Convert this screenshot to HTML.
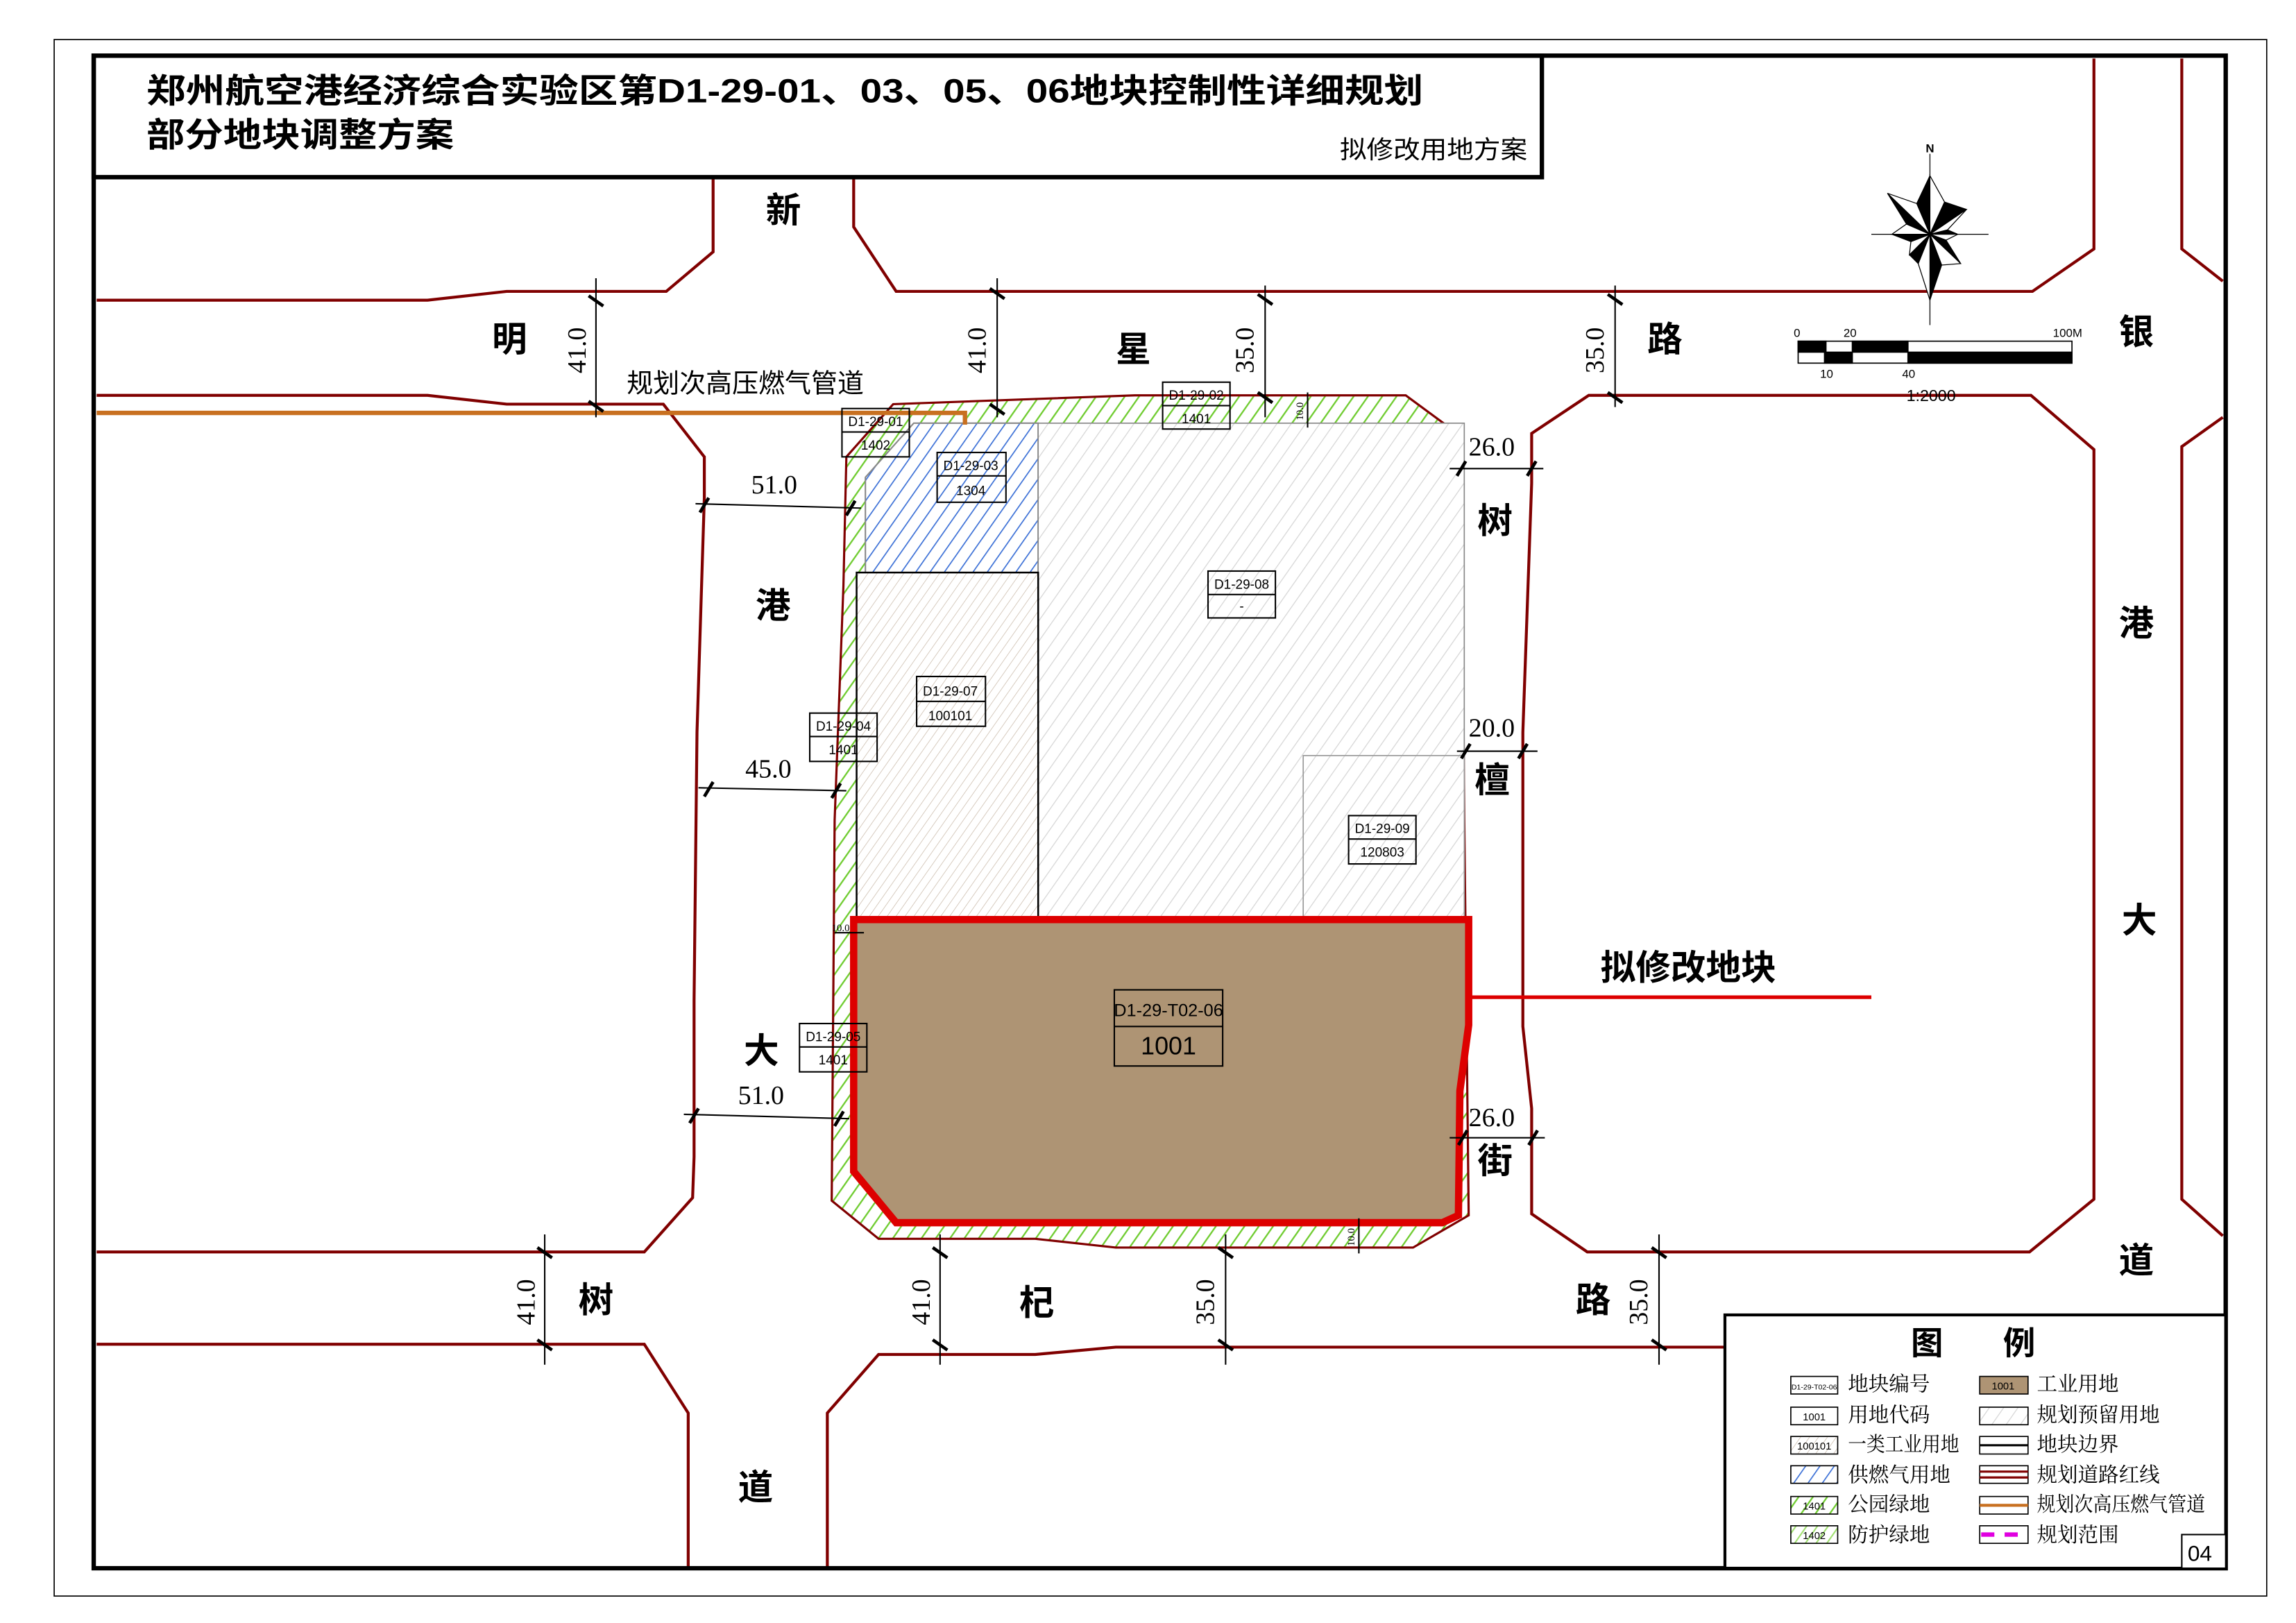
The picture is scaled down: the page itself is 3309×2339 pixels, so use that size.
<!DOCTYPE html>
<html><head><meta charset="utf-8"><style>
html,body{margin:0;padding:0;background:#fff;}
svg{display:block;}
text{font-family:"Liberation Sans","Noto Sans CJK SC",sans-serif;}
text.rd{font-family:"Noto Sans CJK SC","WenQuanYi Zen Hei",sans-serif;font-weight:bold;font-size:24px;}
g.dim text{font-family:"Liberation Serif","Noto Serif CJK SC",serif;font-size:18px;}
g.lb text{font-family:"Liberation Sans Narrow","Liberation Sans",sans-serif;font-size:9px;}
g.lg text{font-family:"Noto Serif CJK SC","Noto Sans CJK SC",serif;font-size:14px;}
</style></head><body>
<svg width="3309" height="2339" viewBox="0 0 1568 1108.4" preserveAspectRatio="none" xmlns="http://www.w3.org/2000/svg">
<defs>
<pattern id="pg" width="8" height="8" patternUnits="userSpaceOnUse" patternTransform="rotate(35)"><rect width="8" height="8" fill="#fff"/><line x1="0" y1="0" x2="0" y2="8" stroke="#6fcc30" stroke-width="2.2"/></pattern>
<pattern id="pg2" width="6" height="6" patternUnits="userSpaceOnUse" patternTransform="rotate(35)"><rect width="6" height="6" fill="#fff"/><line x1="0" y1="0" x2="0" y2="6" stroke="#a0e070" stroke-width="2"/></pattern>
<pattern id="pb" width="8" height="8" patternUnits="userSpaceOnUse" patternTransform="rotate(35)"><rect width="8" height="8" fill="#fff"/><line x1="0" y1="0" x2="0" y2="8" stroke="#3a6fd6" stroke-width="1.6"/></pattern>
<pattern id="pr" width="8" height="8" patternUnits="userSpaceOnUse" patternTransform="rotate(35)"><rect width="8" height="8" fill="#fff"/><line x1="0" y1="0" x2="0" y2="8" stroke="#d6d6d6" stroke-width="1.2"/></pattern>
<pattern id="pe" width="5" height="5" patternUnits="userSpaceOnUse" patternTransform="rotate(35)"><rect width="5" height="5" fill="#fff"/><line x1="0" y1="0" x2="0" y2="5" stroke="#d0c2b4" stroke-width="0.8"/></pattern>
</defs>
<rect x="0" y="0" width="1568" height="1108.4" fill="#fff"/>
<rect x="37" y="27" width="1511" height="1063" fill="none" stroke="#000" stroke-width="0.8"/>

<g fill="none" stroke="#800000" stroke-width="2">
<path d="M66,205 H292 L346,199 H455 L487,172 V121"/>
<path d="M583,121 V155 L612,199 H1388 L1430,170 V40"/>
<path d="M1490,40 V170 L1518,192"/>
<path d="M66,270 H292 L346,276 H453 L481,312 V340 L476,500 L474,683 L474,790 L473,818 L440,855 H66"/>
<path d="M1046,296 L1085,270 H1387 L1430,307 V819 L1386,855 H1084 L1046,829 V757 L1040,701 V500 L1046,330 Z"/>
<path d="M1518,285 L1490,305 V819 L1518,844"/>
<path d="M66,918 H440 L470,965 V1071"/>
<path d="M565,1071 V965 L600,925 H707 L762,920 H1178"/>
</g>

<path d="M610,276 L775,270 H960 L998,298 L1000,560 L1003,830 L965,852 H762 L707,846 H600 L568,820 L570,560 L576,400 L578,312 Z" fill="url(#pg)" stroke="#800000" stroke-width="1.5"/>
<path d="M624,289 H709 V391 H591 V326 Z" fill="url(#pb)" stroke="#888" stroke-width="1"/>
<rect x="709" y="289" width="291" height="339" fill="url(#pr)" stroke="#888" stroke-width="0.8"/>
<rect x="585" y="391" width="124" height="237" fill="url(#pe)" stroke="#000" stroke-width="1.2"/>
<rect x="890" y="516" width="110" height="112" fill="url(#pr)" stroke="#999" stroke-width="0.8"/>
<path d="M583,628 H1003 V700 L997,745 L996,830 L985,835 H612 L583,800 Z" fill="#ae9474" stroke="#dd0000" stroke-width="5"/>
<line x1="1003" y1="681" x2="1278" y2="681" stroke="#dd0000" stroke-width="2.5"/>
<text x="1093" y="669" font-size="24" font-family="Noto Sans CJK SC,sans-serif" font-weight="bold">拟修改地块</text>

<path d="M66,282 H659 V290" fill="none" stroke="#c87020" stroke-width="3"/>
<text x="428" y="268" font-size="18" font-family="Noto Serif CJK SC,serif">规划次高压燃气管道</text>

<g stroke="#000" stroke-width="1" fill="none">
<rect x="575" y="279" width="46" height="33"/><line x1="575" y1="295" x2="621" y2="295"/>
<rect x="640" y="309" width="47" height="34"/><line x1="640" y1="325" x2="687" y2="325"/>
<rect x="794" y="261" width="46" height="32"/><line x1="794" y1="277" x2="840" y2="277"/>
<rect x="825" y="390" width="46" height="32"/><line x1="825" y1="406" x2="871" y2="406"/>
<rect x="626" y="462" width="47" height="34"/><line x1="626" y1="479" x2="673" y2="479"/>
<rect x="553" y="487" width="46" height="33"/><line x1="553" y1="503" x2="599" y2="503"/>
<rect x="921" y="557" width="46" height="33"/><line x1="921" y1="573" x2="967" y2="573"/>
<rect x="546" y="699" width="46" height="33"/><line x1="546" y1="715" x2="592" y2="715"/>
<rect x="761" y="676" width="74" height="52"/><line x1="761" y1="701" x2="835" y2="701"/>
</g>
<g class="lb" text-anchor="middle">
<text x="598" y="291">D1-29-01</text><text x="598" y="307">1402</text>
<text x="663" y="321">D1-29-03</text><text x="663" y="338">1304</text>
<text x="817" y="273">D1-29-02</text><text x="817" y="289">1401</text>
<text x="848" y="402">D1-29-08</text><text x="848" y="417">-</text>
<text x="649" y="475">D1-29-07</text><text x="649" y="492">100101</text>
<text x="576" y="499">D1-29-04</text><text x="576" y="515">1401</text>
<text x="944" y="569">D1-29-09</text><text x="944" y="585">120803</text>
<text x="569" y="711">D1-29-05</text><text x="569" y="727">1401</text>
<text x="798" y="694" style="font-size:12px">D1-29-T02-06</text><text x="798" y="720" style="font-size:17px">1001</text>
</g>

<g stroke="#000" stroke-width="1">
<line x1="407" y1="190" x2="407" y2="285"/><line x1="681" y1="190" x2="681" y2="285"/>
<line x1="864" y1="195" x2="864" y2="285"/><line x1="1103" y1="195" x2="1103" y2="278"/>
<line x1="372" y1="843" x2="372" y2="932"/><line x1="642" y1="843" x2="642" y2="932"/>
<line x1="837" y1="843" x2="837" y2="932"/><line x1="1133" y1="843" x2="1133" y2="932"/>
<line x1="893" y1="268" x2="893" y2="292"/><line x1="928" y1="832" x2="928" y2="856"/>
<line x1="475" y1="344" x2="588" y2="347"/><line x1="477" y1="538" x2="578" y2="540"/>
<line x1="467" y1="761" x2="580" y2="764"/><line x1="570" y1="637" x2="590" y2="637"/>
<line x1="990" y1="320" x2="1054" y2="320"/><line x1="995" y1="513" x2="1050" y2="513"/>
<line x1="990" y1="777" x2="1055" y2="777"/>
</g>
<g stroke="#000" stroke-width="2.2">
<path d="M402,202 l10,7 M402,274 l10,7 M676,197 l10,7 M676,276 l10,7 M859,201 l10,7 M859,268 l10,7 M1098,201 l10,7 M1098,268 l10,7"/>
<path d="M367,852 l10,7 M367,915 l10,7 M637,852 l10,7 M637,915 l10,7 M832,852 l10,7 M832,915 l10,7 M1128,852 l10,7 M1128,915 l10,7"/>
<path d="M478,350 l6,-10 M578,352 l6,-10 M481,544 l6,-10 M568,545 l6,-10 M471,767 l6,-10 M570,769 l6,-10"/>
<path d="M995,325 l6,-10 M1043,325 l6,-10 M998,518 l6,-10 M1037,518 l6,-10 M996,782 l6,-10 M1044,782 l6,-10"/>
</g>
<g class="dim">
<text transform="translate(400,255) rotate(-90)">41.0</text>
<text transform="translate(673,255) rotate(-90)">41.0</text>
<text transform="translate(856,255) rotate(-90)">35.0</text>
<text transform="translate(1095,255) rotate(-90)">35.0</text>
<text transform="translate(365,905) rotate(-90)">41.0</text>
<text transform="translate(635,905) rotate(-90)">41.0</text>
<text transform="translate(829,905) rotate(-90)">35.0</text>
<text transform="translate(1125,905) rotate(-90)">35.0</text>
<text x="513" y="337">51.0</text><text x="509" y="531">45.0</text><text x="504" y="754">51.0</text>
<text x="1003" y="311">26.0</text><text x="1003" y="503">20.0</text><text x="1003" y="769">26.0</text>
<text transform="translate(890,287) rotate(-90)" style="font-size:7px">10.0</text>
<text transform="translate(925,851) rotate(-90)" style="font-size:7px">10.0</text>
<text x="568" y="636" style="font-size:7px">10.0</text>
</g>

<g text-anchor="middle">
<text class="rd" x="535" y="152">新</text><text class="rd" x="348" y="240">明</text><text class="rd" x="774" y="247">星</text><text class="rd" x="1137" y="240">路</text>
<text class="rd" x="528" y="422">港</text><text class="rd" x="520" y="726">大</text><text class="rd" x="1021" y="364">树</text><text class="rd" x="1019" y="541">檀</text>
<text class="rd" x="1021" y="801">街</text><text class="rd" x="407" y="896">树</text><text class="rd" x="708" y="898">杞</text><text class="rd" x="1088" y="896">路</text>
<text class="rd" x="516" y="1024">道</text><text class="rd" x="1459" y="235">银</text><text class="rd" x="1459" y="434">港</text><text class="rd" x="1461" y="637">大</text><text class="rd" x="1459" y="869">道</text>
</g>

<g transform="translate(1318,160)" stroke="#000" stroke-width="0.6">
<line x1="0" y1="-55" x2="0" y2="62"/><line x1="-40" y1="0" x2="40" y2="0"/>
<path d="M0,0 L0,-40 L-9,-21 Z" fill="#000"/><path d="M0,0 L0,-40 L10,-22 Z" fill="#fff"/>
<path d="M0,0 L10,-22 L25,-17 Z" fill="#000"/><path d="M0,0 L25,-17 L12,-3 Z" fill="#fff"/>
<path d="M0,0 L12,-3 L19,0 Z" fill="#000"/><path d="M0,0 L19,0 L11,4 Z" fill="#fff"/>
<path d="M0,0 L11,4 L21,20 Z" fill="#000"/><path d="M0,0 L21,20 L8,21 Z" fill="#fff"/>
<path d="M0,0 L8,21 L0,45 Z" fill="#000"/><path d="M0,0 L0,45 L-8,20 Z" fill="#fff"/>
<path d="M0,0 L-8,20 L-14,14 Z" fill="#000"/><path d="M0,0 L-14,14 L-13,5 Z" fill="#fff"/>
<path d="M0,0 L-13,5 L-26,0 Z" fill="#000"/><path d="M0,0 L-26,0 L-16,-7 Z" fill="#fff"/>
<path d="M0,0 L-16,-7 L-29,-28 Z" fill="#000"/><path d="M0,0 L-29,-28 L-9,-21 Z" fill="#fff"/>
</g>
<text x="1318" y="104" font-size="8" font-weight="bold" text-anchor="middle">N</text>
<g stroke="#000" stroke-width="0.8">
<rect x="1228" y="233" width="187" height="15" fill="#fff"/>
<rect x="1228" y="233" width="19" height="7.5" fill="#000"/><rect x="1265" y="233" width="38" height="7.5" fill="#000"/>
<rect x="1246" y="240.5" width="19" height="7.5" fill="#000"/><rect x="1303" y="240.5" width="112" height="7.5" fill="#000"/>
</g>
<g font-family="Liberation Serif,serif" font-size="8">
<text x="1225" y="230">0</text><text x="1259" y="230">20</text><text x="1402" y="230">100M</text>
<text x="1243" y="258">10</text><text x="1299" y="258">40</text><text x="1302" y="274" font-size="11">1:2000</text>
</g>

<rect x="64" y="38" width="989" height="83" fill="#fff" stroke="#000" stroke-width="3"/>
<text x="100" y="70" font-size="23" font-weight="bold" font-family="Noto Sans CJK SC,sans-serif" textLength="872" lengthAdjust="spacingAndGlyphs">郑州航空港经济综合实验区第D1-29-01、03、05、06地块控制性详细规划</text>
<text x="100" y="100" font-size="23" font-weight="bold" font-family="Noto Sans CJK SC,sans-serif" textLength="210" lengthAdjust="spacingAndGlyphs">部分地块调整方案</text>
<text x="915" y="108" font-size="17" font-family="Noto Sans CJK SC,sans-serif" textLength="128" lengthAdjust="spacingAndGlyphs">拟修改用地方案</text>

<rect x="64" y="38" width="1456" height="1033" fill="none" stroke="#000" stroke-width="3"/>

<rect x="1178" y="898" width="342" height="173" fill="#fff" stroke="#000" stroke-width="2"/>
<text x="1305" y="925" font-size="22" font-weight="bold" font-family="Noto Sans CJK SC,sans-serif">图</text>
<text x="1368" y="925" font-size="22" font-weight="bold" font-family="Noto Sans CJK SC,sans-serif">例</text>
<g stroke="#000" stroke-width="0.8">
<rect x="1223" y="940" width="32" height="12" fill="#fff"/>
<rect x="1223" y="961" width="32" height="12" fill="#fff"/>
<rect x="1223" y="981" width="32" height="12" fill="url(#pe)"/>
<rect x="1223" y="1001" width="32" height="12" fill="url(#pb)"/>
<rect x="1223" y="1022" width="32" height="12" fill="url(#pg)"/>
<rect x="1223" y="1042" width="32" height="12" fill="url(#pg2)"/>
<rect x="1352" y="940" width="33" height="12" fill="#ae9474"/>
<rect x="1352" y="961" width="33" height="12" fill="url(#pr)"/>
<rect x="1352" y="981" width="33" height="12" fill="#fff"/>
<rect x="1352" y="1001" width="33" height="12" fill="#fff"/>
<rect x="1352" y="1022" width="33" height="12" fill="#fff"/>
<rect x="1352" y="1042" width="33" height="12" fill="#fff"/>
</g>
<line x1="1352" y1="987" x2="1385" y2="987" stroke="#000" stroke-width="1.5"/>
<line x1="1352" y1="1005" x2="1385" y2="1005" stroke="#800000" stroke-width="1.5"/>
<line x1="1352" y1="1009" x2="1385" y2="1009" stroke="#800000" stroke-width="1.5"/>
<line x1="1352" y1="1028" x2="1385" y2="1028" stroke="#c87020" stroke-width="2"/>
<line x1="1353" y1="1048" x2="1384" y2="1048" stroke="#e000e0" stroke-width="3" stroke-dasharray="9,7"/>
<g font-family="Liberation Serif,serif" font-size="7" text-anchor="middle">
<text x="1239" y="949" font-size="5">D1-29-T02-06</text><text x="1239" y="970">1001</text><text x="1239" y="990">100101</text>
<text x="1239" y="1031">1401</text><text x="1239" y="1051">1402</text><text x="1368" y="949">1001</text>
</g>
<g class="lg">
<text x="1262" y="950">地块编号</text><text x="1262" y="971">用地代码</text><text x="1262" y="991" textLength="76" lengthAdjust="spacingAndGlyphs">一类工业用地</text>
<text x="1262" y="1012">供燃气用地</text><text x="1262" y="1032">公园绿地</text><text x="1262" y="1053">防护绿地</text>
<text x="1391" y="950">工业用地</text><text x="1391" y="971">规划预留用地</text><text x="1391" y="991">地块边界</text>
<text x="1391" y="1012">规划道路红线</text><text x="1391" y="1032" textLength="115" lengthAdjust="spacingAndGlyphs">规划次高压燃气管道</text><text x="1391" y="1053">规划范围</text>
</g>
<rect x="1490" y="1048" width="30" height="23" fill="#fff" stroke="#000" stroke-width="1"/>
<text x="1494" y="1066" font-family="Liberation Serif,serif" font-size="15">04</text>
</svg>
</body></html>
